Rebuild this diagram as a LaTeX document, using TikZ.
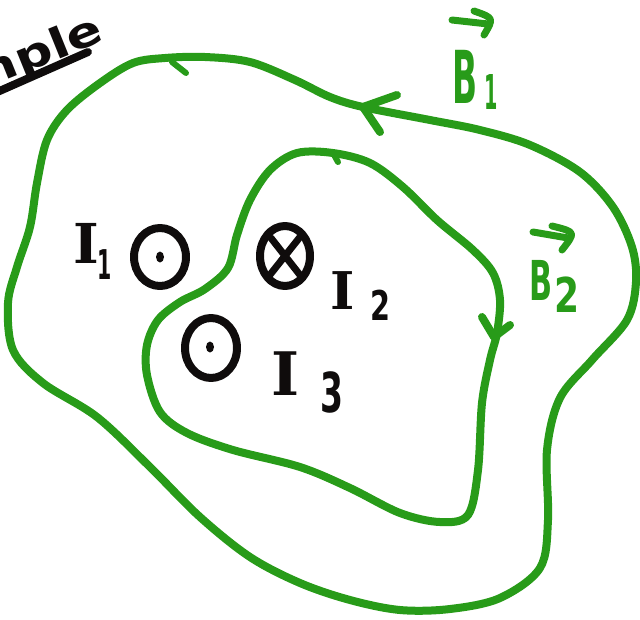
\documentclass[tikz,border=0pt]{standalone}
\usepackage{graphicx}
\usepackage{fontspec}
\newfontfamily\serifmk{DejaVu Serif}
\newfontfamily\sansmk{DejaVu Sans}
\definecolor{pen}{RGB}{40,155,25}
\definecolor{ink}{RGB}{15,12,12}
\begin{document}
\begin{tikzpicture}[x=1pt,y=-1pt,
  loop/.style={draw=pen,line width=8pt,line cap=round,line join=round},
  blk/.style={draw=ink,line width=8pt,line cap=round,line join=round},
  lbl/.style={inner sep=0pt,text=ink},
  lblg/.style={inner sep=0pt,text=pen}]
\useasboundingbox (0,0) rectangle (640,619);
\clip (0,0) rectangle (640,619);
% title (cut off at the left edge)
\node[rotate=22,anchor=base east,inner sep=0pt,text=ink,
  font=\fontsize{42}{44}\selectfont\sansmk\bfseries] (ex) at (106,40) {\scalebox{1.25}[1]{Example}};
\draw[blk] (-5,93) -- (88,52);
% outer loop B1
\draw[loop] plot[smooth cycle,tension=0.55] coordinates {
 (133,63) (165,58) (205,57) (250,62) (295,80) (330,97) (363,107) (430,120)
 (480,130) (530,145) (580,172) (613,207) (632,247) (636,282) (627,320)
 (592,360) (560,398) (547,450) (548,520) (540,568) (500,598) (450,609)
 (400,610) (350,600) (300,583) (250,557) (200,517) (150,467) (97,417)
 (43,383) (13,350) (8,303) (17,267) (30,227) (37,183) (47,140) (67,110) (100,83)};
\draw[loop] (397,95) -- (363,107) -- (380,132);
\draw[loop,line width=6pt] (172,62) -- (186,73);
% inner loop B2
\draw[loop] plot[smooth cycle,tension=0.55] coordinates {
 (297,153) (333,153) (370,163) (403,187) (437,220) (473,250) (493,273)
 (500,300) (497,333) (490,360) (482,403) (478,470) (468,515) (440,522)
 (400,513) (350,488) (300,467) (233,450) (187,433) (160,412) (147,375)
 (147,345) (158,320) (180,302) (205,289) (228,268) (237,235) (250,200) (270,170)};
\draw[loop] (482,317) -- (494,337) -- (510,325);
\draw[loop,line width=6pt] (333,153) -- (338,162);
% currents
\draw[blk] (160,257) ellipse (26 and 29);
\fill[ink] (160,257) ellipse (4 and 5.5);
\draw[blk] (285,256) ellipse (25 and 30);
\draw[blk,line width=7pt] (271,238) -- (300,275) (300,237) -- (269,276);
\draw[blk] (211,348) ellipse (26 and 30);
\fill[ink] (210,347) ellipse (4 and 5.5);
% labels
\node[lbl,font=\fontsize{55}{57}\selectfont\serifmk\bfseries] (i1) at (86,243) {I};
\node[lbl,font=\fontsize{41}{43}\selectfont\sansmk\bfseries] (i1s) at (105,265) {\scalebox{0.5}[1]{1}};
\node[lbl,font=\fontsize{52}{54}\selectfont\serifmk\bfseries] (i2) at (343,291) {I};
\node[lbl,font=\fontsize{41}{43}\selectfont\sansmk\bfseries] (i2s) at (380,305) {\scalebox{0.7}[1]{2}};
\node[lbl,font=\fontsize{60}{62}\selectfont\serifmk\bfseries] (i3) at (286,374) {I};
\node[lbl,font=\fontsize{55}{57}\selectfont\sansmk\bfseries] (i3s) at (332,392) {\scalebox{0.6}[1]{3}};
\node[lblg,font=\fontsize{73}{75}\selectfont\sansmk\bfseries] (b1) at (465,77) {\scalebox{0.45}[1]{B}};
\node[lblg,font=\fontsize{48}{50}\selectfont\sansmk\bfseries] (b1s) at (491,92) {\scalebox{0.4}[1]{1}};
\draw[loop,line width=7pt] (452,20) -- (488,24);
\draw[loop,line width=7pt] (474,11) .. controls (494,18) .. (484,35);
\node[lblg,font=\fontsize{55}{57}\selectfont\sansmk\bfseries] (b2) at (541,280) {\scalebox{0.55}[1]{B}};
\node[lblg,font=\fontsize{48}{50}\selectfont\sansmk\bfseries] (b2s) at (567,295) {\scalebox{0.75}[1]{2}};
\draw[loop,line width=7pt] (533,232) -- (568,238);
\draw[loop,line width=7pt] (552,226) .. controls (576,232) .. (562,250);
\end{tikzpicture}
\end{document}
